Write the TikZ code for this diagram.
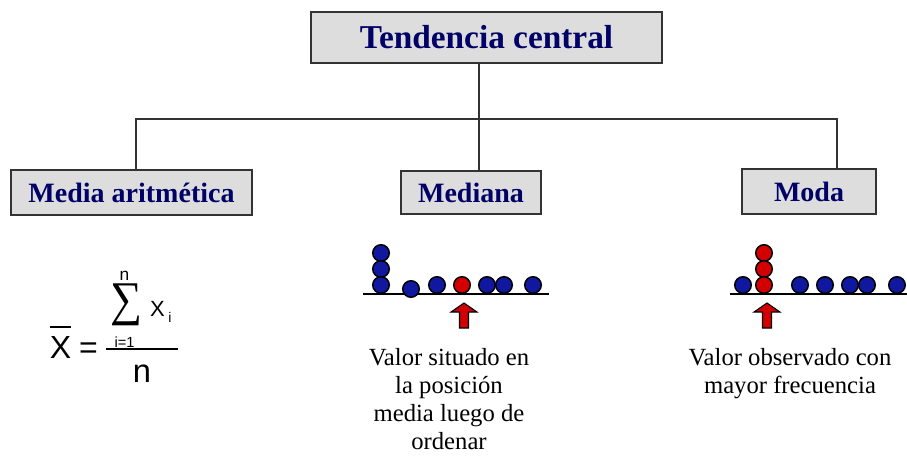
\documentclass[tikz,border=0pt]{standalone}
\usepackage{graphicx}
\usepackage{fontspec}
\setmainfont{Liberation Serif}
\newfontfamily\arial{Liberation Sans}
\definecolor{marino}{RGB}{0,0,102}
\definecolor{gris}{RGB}{221,221,221}
\definecolor{borde}{RGB}{51,51,51}
\definecolor{azul}{RGB}{16,24,160}
\definecolor{rojo}{RGB}{210,0,0}

\begin{document}
\begin{tikzpicture}[x=0.75pt,y=-0.75pt,
    caja/.style={draw=borde,fill=gris,line width=1.1pt,text=marino,inner sep=0pt,
        font=\bfseries\fontsize{21}{25}\selectfont},
    linea/.style={draw=borde,line width=1.1pt},
    bolaazul/.style={fill=azul,draw=black,line width=1.1pt},
    bolaroja/.style={fill=rojo,draw=black,line width=1.1pt},
    texto/.style={align=center,anchor=north,inner sep=0pt,font=\fontsize{18.5}{21}\selectfont},
    formula/.style={anchor=base,inner sep=0pt,font=\arial\fontsize{#1}{#1}\selectfont}]
    \useasboundingbox[fill=white] (0,0) rectangle (907,457);
    % cajas
    \node[caja,minimum width=263pt,minimum height=38pt,font=\bfseries\fontsize{25}{30}\selectfont] (tc) at (486.5,37.5) {Tendencia central};
    \node[caja,minimum width=181pt,minimum height=34pt] (media) at (131.5,192.5) {Media aritmética};
    \node[caja,minimum width=105pt,minimum height=32pt] (mediana) at (471,192.5) {Mediana};
    \node[caja,minimum width=100.5pt,minimum height=33.75pt] (moda) at (809,191.5) {Moda};
    % conectores
    \coordinate (cruce) at (479,119);
    \coordinate (izq) at (136,119);
    \coordinate (der) at (837,119);
    \draw[linea] (tc.south -| cruce) -- (cruce) -- (mediana.north -| cruce);
    \draw[linea] (media.north -| izq) -- (izq) -- (der) -- (moda.north -| der);
    % formula de la media
    \node[formula=24] (xbar) at (60.5,358) {X};
    \draw[line width=1.1pt] (50,327) -- (71,327);
    \node[formula=24] (igual) at (88.5,358) {=};
    \draw[line width=1.1pt] (106,349) -- (178,349);
    \node[inner sep=0pt] (suma) at (126,305) {\resizebox*{24pt}{31.5pt}{∑}};
    \node[formula=13] (tope) at (124.5,280) {n};
    \node[formula=16.5] (xi) at (157.5,316) {X};
    \node[formula=10.5] (sub) at (170,322) {i};
    \node[formula=11] (desde) at (124.5,347) {i=1};
    \node[formula=24.5] (den) at (142,382) {n};
    % mediana
    \draw[line width=1.5pt] (363,294) -- (549,294);
    \foreach \y in {253,269,285} \draw[bolaazul] (381,\y) circle (6.2pt);
    \draw[bolaazul] (411,289) circle (6.2pt);
    \foreach \x in {437,487,504,533} \draw[bolaazul] (\x,285) circle (6.2pt);
    \draw[bolaroja] (462,285) circle (6.2pt);
    % moda
    \draw[line width=1.5pt] (730,294) -- (907,294);
    \foreach \x in {743,800,825,850,867,897} \draw[bolaazul] (\x,285) circle (6.2pt);
    \foreach \y in {253,269,285} \draw[bolaroja] (764,\y) circle (6.2pt);
    % flechas
    \foreach \x in {464,767}
      \draw[fill=rojo,draw=black,line width=0.8pt] (\x,303) -- ++(13,9) -- ++(-8.5,0) -- ++(0,16)
        -- ++(-9,0) -- ++(0,-16) -- ++(-8.5,0) -- cycle;
    \node[texto] (txtmediana) at (449,348) {Valor situado en\\la posición\\media luego de\\ordenar};
    \node[texto] (txtmoda) at (790,348) {Valor observado con\\mayor frecuencia};
\end{tikzpicture}
\end{document}
